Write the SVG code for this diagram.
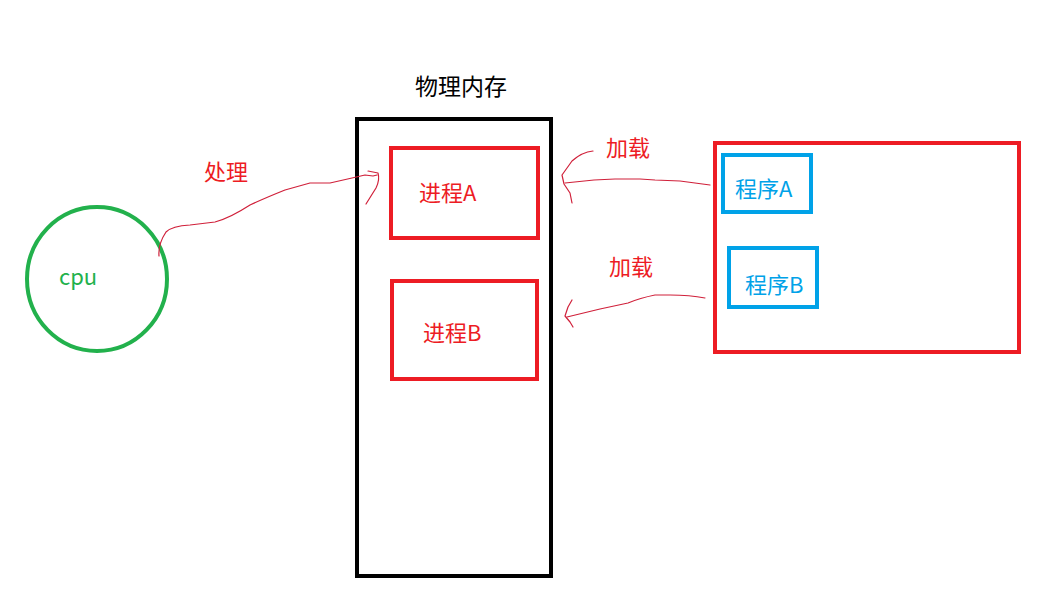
<svg xmlns="http://www.w3.org/2000/svg" width="1061" height="597" viewBox="0 0 1061 597">
<style>
text{font-family:"Noto Sans CJK SC","Liberation Sans",sans-serif;font-size:22px}
.red{fill:none;stroke:#ed1c24;stroke-width:4}
.blue{fill:none;stroke:#00a2e8;stroke-width:4}
.ln{fill:none;stroke:#d0203a;stroke-width:1.2;stroke-linecap:round;stroke-linejoin:round}
.tr{fill:#ed1c24}
.tb{fill:#00a2e8}
</style>
<rect width="1061" height="597" fill="#fff"/>
<g id="cpu">
<ellipse cx="97" cy="279" rx="70" ry="72" fill="none" stroke="#22b14c" stroke-width="4"/>
<text x="59" y="285" fill="#22b14c">cpu</text>
</g>
<g id="memory">
<rect x="357" y="119" width="194" height="457" fill="none" stroke="#000" stroke-width="4"/>
<text x="415" y="95" fill="#000" style="font-size:23px">物理内存</text>
</g>
<g id="procA">
<rect class="red" x="391" y="148" width="147" height="90"/>
<text class="tr" x="419" y="201">进程A</text>
</g>
<g id="procB">
<rect class="red" x="392" y="281" width="145" height="98"/>
<text class="tr" x="423" y="341">进程B</text>
</g>
<g id="programs">
<rect class="red" x="715" y="143" width="304" height="209"/>
</g>
<g id="progA">
<rect class="blue" x="723" y="155" width="88" height="57"/>
<text class="tb" x="735" y="197">程序A</text>
</g>
<g id="progB">
<rect class="blue" x="729" y="248" width="88" height="59"/>
<text class="tb" x="745" y="293">程序B</text>
</g>
<g id="labels">
<text class="tr" x="204" y="180">处理</text>
<text class="tr" x="606" y="156">加载</text>
<text class="tr" x="609" y="275">加载</text>
</g>
<g id="connectors">
<path class="ln" d="M159,256 Q158,244 166,232 Q172,226 190,225 L215,222 Q230,218 250,205 Q265,198 285,190 L310,183 L330,183 L352,178 L365,175 L373,176 L377,175"/>
<path class="ln" d="M368,171 L378,173 Q380,180 376,188 L366,204"/>
<path class="ln" d="M710,185 L680,181 L655,180 L640,179 L615,179 L594,180 L565,183"/>
<path class="ln" d="M593,151 Q582,152 572,161 L562,175 L564,184 L570,193 L572,203"/>
<path class="ln" d="M705,298 Q690,295 670,295 L655,295 Q640,298 628,303 L600,309 L567,317"/>
<path class="ln" d="M572,300 L568,307 L565,316 L570,322 L573,327"/>
</g>
</svg>
